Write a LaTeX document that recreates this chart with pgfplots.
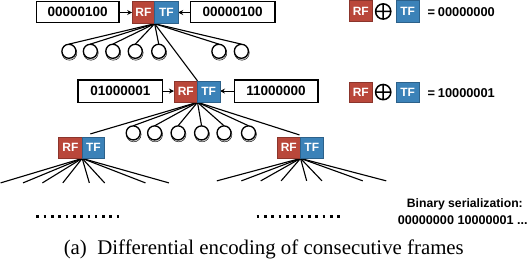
\documentclass[border=0pt]{standalone}
\usepackage{pgfplots}
\pgfplotsset{compat=1.18}
\usepackage{fontspec}
\setmainfont{Liberation Serif}
\newfontfamily\arial{Liberation Sans}
\usetikzlibrary{arrows.meta}
\definecolor{rfred}{HTML}{B9473A}
\definecolor{tfblue}{HTML}{3B82B8}
\newcommand{\sq}[5]{\addplot[draw=#5!75!black, line width=0.5pt, fill=#5] coordinates {(#1,#3) (#2,#3) (#2,#4) (#1,#4)} --cycle;}
\newcommand{\bx}[4]{\addplot[draw=black, line width=1.3pt, fill=white] coordinates {(#1,#3) (#2,#3) (#2,#4) (#1,#4)} --cycle;}
\newcommand{\lab}[3]{\node[font=\arial\bfseries\fontsize{11.8}{12}\selectfont, text=white] at (axis cs:#1,#2) {#3};}
\begin{document}
\begin{tikzpicture}
\begin{axis}[
  scale only axis, width=531bp, height=265bp,
  xmin=0, xmax=531, ymin=0, ymax=265, y dir=reverse,
  axis lines=none, clip=false,
  every node/.append style={inner sep=0pt}
]
% ---- edges level 1
\addplot[black, line width=1.1pt] coordinates {(158,25) (74,45)};
\addplot[black, line width=1.1pt] coordinates {(158,25) (95,45)};
\addplot[black, line width=1.1pt] coordinates {(158,25) (117,45)};
\addplot[black, line width=1.1pt] coordinates {(158,25) (139,45)};
\addplot[black, line width=1.1pt] coordinates {(158,25) (162,45)};
\addplot[black, line width=1.1pt] coordinates {(158,25) (221,45)};
\addplot[black, line width=1.1pt] coordinates {(158,25) (243,45)};
\addplot[black, line width=1.1pt] coordinates {(158,25) (200,81)};
% ---- edges level 2
\addplot[black, line width=1.1pt] coordinates {(200,102) (137,125)};
\addplot[black, line width=1.1pt] coordinates {(200,102) (158,125)};
\addplot[black, line width=1.1pt] coordinates {(200,102) (181,125)};
\addplot[black, line width=1.1pt] coordinates {(200,102) (204,125)};
\addplot[black, line width=1.1pt] coordinates {(200,102) (226,125)};
\addplot[black, line width=1.1pt] coordinates {(200,102) (250,125)};
\addplot[black, line width=1.1pt] coordinates {(200,102) (95,133)};
\addplot[black, line width=1.1pt] coordinates {(200,102) (300,134)};
% ---- edges left child
\addplot[black, line width=1.1pt] coordinates {(87,157) (7,181)};
\addplot[black, line width=1.1pt] coordinates {(87,157) (29,181)};
\addplot[black, line width=1.1pt] coordinates {(87,157) (48,181)};
\addplot[black, line width=1.1pt] coordinates {(87,157) (68,181)};
\addplot[black, line width=1.1pt] coordinates {(87,157) (94,181)};
\addplot[black, line width=1.1pt] coordinates {(87,157) (109,181)};
\addplot[black, line width=1.1pt] coordinates {(87,157) (149,181)};
\addplot[black, line width=1.1pt] coordinates {(87,157) (172,181)};
% ---- edges right child
\addplot[black, line width=1.1pt] coordinates {(301,157) (219,179)};
\addplot[black, line width=1.1pt] coordinates {(301,157) (243,179)};
\addplot[black, line width=1.1pt] coordinates {(301,157) (262,179)};
\addplot[black, line width=1.1pt] coordinates {(301,157) (282,179)};
\addplot[black, line width=1.1pt] coordinates {(301,157) (307,179)};
\addplot[black, line width=1.1pt] coordinates {(301,157) (322,179)};
\addplot[black, line width=1.1pt] coordinates {(301,157) (362,179)};
\addplot[black, line width=1.1pt] coordinates {(301,157) (385,179)};
% ---- circles (shadow + circle)
\addplot[only marks, mark=*, mark size=7.3pt, mark options={draw=none, fill=black!15}] coordinates {
 (74.5,53.5) (95.5,53.5) (117.5,53.5) (139.5,53.5) (162.5,53.5) (221.5,53.5) (243.5,53.5)
 (137.5,133.5) (158.5,133.5) (181.5,133.5) (204.5,133.5) (226.5,133.5) (250.5,133.5)};
\addplot[only marks, mark=*, mark size=6.9pt, mark options={draw=black, fill=white, line width=1.3pt}] coordinates {
 (74,52) (95,52) (117,52) (139,52) (162,52) (221,52) (243,52)
 (137,132) (158,132) (181,132) (204,132) (226,132) (250,132)};
% ---- boxes and arrows
\bx{42}{123}{3}{24}
\bx{193}{276}{3}{24}
\bx{83}{166}{80}{102}
\bx{236}{318}{80}{102}
\addplot[black, line width=1.1pt, -{Stealth[length=5pt,width=5pt]}] coordinates {(123,14) (136,14)};
\addplot[black, line width=1.1pt, -{Stealth[length=5pt,width=5pt]}] coordinates {(193,14) (181,14)};
\addplot[black, line width=1.1pt, -{Stealth[length=5pt,width=5pt]}] coordinates {(166,91) (177,91)};
\addplot[black, line width=1.1pt, -{Stealth[length=5pt,width=5pt]}] coordinates {(236,91) (222,91)};
\node[font=\arial\bfseries\fontsize{13.3}{14}\selectfont] at (axis cs:82.5,13.5) {00000100};
\node[font=\arial\bfseries\fontsize{13.3}{14}\selectfont] at (axis cs:234.5,13.5) {00000100};
\node[font=\arial\bfseries\fontsize{13.3}{14}\selectfont] at (axis cs:124.5,91) {01000001};
\node[font=\arial\bfseries\fontsize{13.3}{14}\selectfont] at (axis cs:277,91) {11000000};
% ---- RF/TF squares
\sq{136}{158}{3}{25}{rfred}
\sq{158}{181}{3}{25}{tfblue}
\sq{177}{200}{81}{102}{rfred}
\sq{200}{222}{81}{102}{tfblue}
\sq{64}{87}{136}{157}{rfred}
\sq{87}{109}{136}{157}{tfblue}
\sq{278}{301}{136}{157}{rfred}
\sq{301}{323}{136}{157}{tfblue}
\sq{349}{371}{2}{23}{rfred}
\sq{395}{417}{2}{24}{tfblue}
\sq{349}{371}{82}{102}{rfred}
\sq{395}{417}{82}{102}{tfblue}
\lab{147}{14}{RF}
\lab{169.5}{14}{TF}
\lab{188.5}{91.5}{RF}
\lab{211}{91.5}{TF}
\lab{75.5}{146.5}{RF}
\lab{98}{146.5}{TF}
\lab{289.5}{146.5}{RF}
\lab{312}{146.5}{TF}
\lab{360}{12.5}{RF}
\lab{406}{13}{TF}
\lab{360}{92}{RF}
\lab{406}{92}{TF}
% ---- xor symbols
\addplot[only marks, mark=oplus, mark size=7.5pt, mark options={draw=black, fill=white, line width=1.5pt}] coordinates {(382,13) (382,92)};
\node[font=\arial\bfseries\fontsize{12.6}{14}\selectfont, anchor=west] at (axis cs:422,13.5) {=\hspace{0.22em}00000000};
\node[font=\arial\bfseries\fontsize{12.6}{14}\selectfont, anchor=west] at (axis cs:422,92.5) {=\hspace{0.22em}10000001};
% ---- dots
\addplot[black, line width=2.6pt, dash pattern=on 2.6pt off 4.6pt] coordinates {(42,214) (124,214)};
\addplot[black, line width=2.6pt, dash pattern=on 2.6pt off 4.6pt] coordinates {(258,214) (340,214)};
% ---- serialization text
\node[font=\arial\bfseries\fontsize{12}{13}\selectfont] at (axis cs:462,202) {Binary serialization:};
\node[font=\arial\bfseries\fontsize{12.4}{13}\selectfont] at (axis cs:460,218) {00000000 10000001 ...};
% ---- caption
\node[font=\fontsize{20.5}{24}\selectfont, anchor=base] at (axis cs:265,251) {(a)\ \ Differential encoding of consecutive frames};
\end{axis}
\end{tikzpicture}
\end{document}
